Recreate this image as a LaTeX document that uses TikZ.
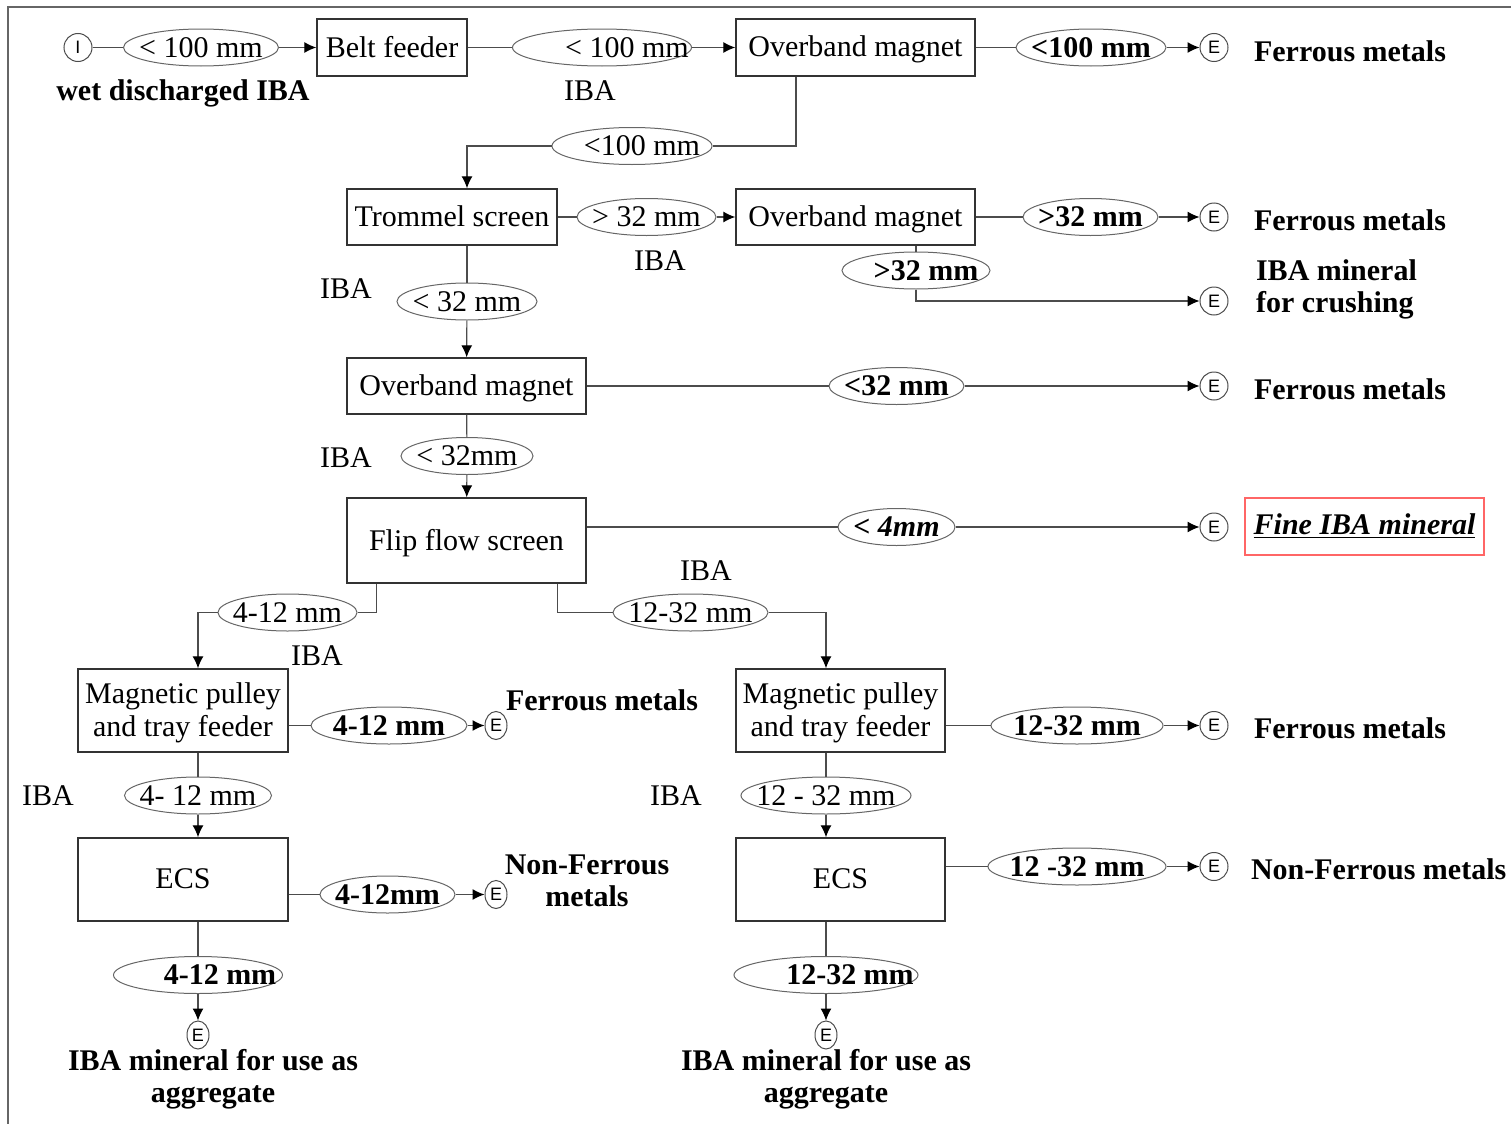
\documentclass[tikz,border=0pt]{standalone}
\usepackage{fontspec}
\setmainfont{Liberation Serif}
\setsansfont{Liberation Sans}
\usetikzlibrary{arrows.meta, positioning, shapes.geometric, calc}
% text set inside a size ellipse without changing its size; optional shift to the right (twice the offset)
\newcommand{\sz}[2][0pt]{\raisebox{-0.33em}[0pt][0pt]{\makebox[0pt]{\hspace*{#1}#2}}}

\begin{document}
\begin{tikzpicture}[x=0.5pt, y=-0.5pt,
        font=\fontsize{15}{16.5}\selectfont,
        unit/.style={draw=black!80, line width=0.7pt, align=center, inner sep=0pt, text depth=0.1em},
        size/.style={ellipse, draw=black!60, line width=0.5pt, inner sep=0pt, minimum height=18.5pt},
        bsize/.style={size, font=\bfseries\fontsize{15}{16.5}\selectfont},
        term/.style={circle, draw=black!70, line width=0.5pt, inner sep=0pt, minimum size=14pt, font=\sffamily\fontsize{9}{9}\selectfont},
        termn/.style={term, ellipse, minimum width=11pt, minimum height=14pt},
        product/.style={font=\bfseries\fontsize{15}{16}\selectfont, align=center},
        line/.style={draw=black!70, line width=0.6pt},
        flow/.style={line, -{Latex[length=6pt, width=5.5pt, color=black]}}
    ]
    \useasboundingbox (0,0) rectangle (1511,1124);
    \draw[black!60, line width=0.6pt] (8,1124) -- (8,7) -- (1511,7);

    % process units
    \node[unit, minimum width=75pt, minimum height=28.5pt] (bf) at (392,47.5) {Belt feeder};
    \node[unit, minimum width=119.5pt, minimum height=28.5pt] (om1) at (855.5,47.5) {Overband magnet};
    \node[unit, minimum width=105pt, minimum height=28pt] (trommel) at (452,217) {Trommel screen};
    \node[unit, minimum width=119.5pt, minimum height=28pt] (om2) at (855.5,217) {Overband magnet};
    \node[unit, minimum width=119.5pt, minimum height=28pt] (om3) at (466.5,386) {Overband magnet};
    \node[unit, minimum width=119.5pt, minimum height=42.5pt] (ffs) at (466.5,540.5) {Flip flow screen};
    \node[unit, minimum width=105pt, minimum height=41.5pt] (mp1) at (183,710.5) {Magnetic pulley\\and tray feeder};
    \node[unit, minimum width=104.5pt, minimum height=41.5pt] (mp2) at (840.5,710.5) {Magnetic pulley\\and tray feeder};
    \node[unit, minimum width=105pt, minimum height=41.5pt] (ecs1) at (183,879.5) {ECS};
    \node[unit, minimum width=104.5pt, minimum height=41.5pt] (ecs2) at (840.5,879.5) {ECS};

    % size fractions
    \node[size, minimum width=77.5pt] (s100a) at (201,47.5) {\sz{< 100 mm}};
    \node[size, minimum width=89.5pt] (s100b) at (602,47.5) {\sz[25pt]{< 100 mm}};
    \node[bsize, minimum width=75pt] (s100c) at (1091,47.5) {\sz{<100 mm}};
    \node[size, minimum width=80pt] (s100d) at (632,146) {\sz[10pt]{<100 mm}};
    \node[size, minimum width=69.5pt] (s32g) at (646.5,217) {\sz{> 32 mm}};
    \node[bsize, minimum width=67.5pt] (s32h) at (1090.5,217) {\sz{>32 mm}};
    \node[bsize, minimum width=74pt] (s32c) at (916,270.5) {\sz[10pt]{>32 mm}};
    \node[size, minimum width=70pt] (s32a) at (467,301.5) {\sz{< 32 mm}};
    \node[bsize, minimum width=67.5pt] (s32d) at (896.5,386) {\sz{<32 mm}};
    \node[size, minimum width=66pt] (s32b) at (467,456) {\sz{< 32mm}};
    \node[bsize, minimum width=58.5pt] (s4) at (896.5,527) {\sz{< \itshape 4mm}};
    \node[size, minimum width=69.5pt] (s412a) at (287.5,612.5) {\sz{4-12 mm}};
    \node[size, minimum width=77.5pt] (s1232a) at (690.5,612.5) {\sz{12-32 mm}};
    \node[bsize, minimum width=78pt] (s412c) at (389,725.5) {\sz{4-12 mm}};
    \node[bsize, minimum width=86pt] (s1232c) at (1077,725.5) {\sz{12-32 mm}};
    \node[size, minimum width=73.5pt] (s412b) at (198,795.5) {\sz{4- 12 mm}};
    \node[size, minimum width=85pt] (s1232b) at (826,795.5) {\sz{12 - 32 mm}};
    \node[bsize, minimum width=67.5pt] (s412d) at (387.5,894.5) {\sz{4-12mm}};
    \node[bsize, minimum width=89pt] (s1232d) at (1077,866.5) {\sz{12 -32 mm}};
    \node[bsize, minimum width=84.5pt] (s412e) at (198,975) {\sz[22pt]{4-12 mm}};
    \node[bsize, minimum width=92pt] (s1232e) at (826,975) {\sz[24pt]{12-32 mm}};

    % start and end points
    \node[term] (in) at (78,47.5) {I};
    \node[term] (e1) at (1214,47.5) {E};
    \node[term] (e2) at (1214,217) {E};
    \node[term] (e3) at (1214,301) {E};
    \node[term] (e4) at (1214,386) {E};
    \node[term] (e5) at (1214,527) {E};
    \node[termn] (e6) at (496,725.5) {E};
    \node[term] (e7) at (1214,725.5) {E};
    \node[termn] (e8) at (496,894.5) {E};
    \node[term] (e9) at (1214,866.5) {E};
    \node[termn] (e10) at (198,1035) {E};
    \node[termn] (e11) at (826,1035) {E};

    % labels
    \node[product] (wet) at (183,93) {wet discharged IBA};
    \node (iba1) at (590,91) {IBA};
    \node (iba2) at (660,261) {IBA};
    \node (iba3) at (346,289) {IBA};
    \node (iba4) at (346,458) {IBA};
    \node (iba5) at (706,571) {IBA};
    \node (iba6) at (317,656) {IBA};
    \node (iba7) at (48,796) {IBA};
    \node (iba8) at (676,796) {IBA};
    \node[product, anchor=west] (fe1) at (1247,51) {Ferrous metals};
    \node[product, anchor=west] (fe2) at (1247,220) {Ferrous metals};
    \node[product, anchor=west, align=left] (crush) at (1249,289) {IBA mineral\\for crushing};
    \node[product, anchor=west] (fe3) at (1247,389) {Ferrous metals};
    \node[product, draw=red!60, line width=0.6pt, minimum width=119.5pt, minimum height=28.5pt, inner sep=0pt,
        font=\bfseries\itshape\fontsize{15}{16}\selectfont] (fine) at (1364.5,526.5) {\underline{Fine IBA mineral}};
    \node[product] (fe4) at (602,700) {Ferrous metals};
    \node[product, anchor=west] (fe5) at (1247,728) {Ferrous metals};
    \node[product] (nf1) at (587,881) {Non-Ferrous\\metals};
    \node[product, anchor=west] (nf2) at (1244,869) {Non-Ferrous metals};
    \node[product] (agg1) at (213,1079) {IBA mineral for use as\\aggregate};
    \node[product] (agg2) at (826,1079) {IBA mineral for use as\\aggregate};

    % connectors
    \draw[line] (in) -- (s100a);
    \draw[flow] (s100a) -- (bf);
    \draw[line] (bf) -- (s100b);
    \draw[flow] (s100b) -- (om1);
    \draw[line] (om1) -- (s100c);
    \draw[flow] (s100c) -- (e1);
    \draw[line] ([xshift=-29.75pt]om1.south) |- (s100d);
    \draw[flow] (s100d) -| (trommel.north -| s32a);
    \draw[line] (trommel) -- (s32g);
    \draw[flow] (s32g) -- (om2);
    \draw[line] (om2) -- (s32h);
    \draw[flow] (s32h) -- (e2);
    \draw[line] (om2.south -| s32c) -- (s32c);
    \draw[flow] (s32c) |- (e3);
    \draw[line] (trommel.south -| s32a) -- (s32a);
    \draw[flow] (s32a) -- (om3);
    \draw[line] (om3) -- (s32d);
    \draw[flow] (s32d) -- (e4);
    \draw[line] (om3) -- (s32b);
    \draw[flow] (s32b) -- (ffs);
    \draw[line] (ffs.east |- s4) -- (s4);
    \draw[flow] (s4) -- (e5);
    \draw[line] ([xshift=15pt]ffs.south west) |- (s412a);
    \draw[flow] (s412a) -| (mp1.north -| s412b);
    \draw[line] ([xshift=-14.5pt]ffs.south east) |- (s1232a);
    \draw[flow] (s1232a) -| (mp2.north -| s1232b);
    \draw[line] (mp1.east |- s412c) -- (s412c);
    \draw[flow] (s412c) -- (e6);
    \draw[line] (mp2.east |- s1232c) -- (s1232c);
    \draw[flow] (s1232c) -- (e7);
    \draw[line] (mp1.south -| s412b) -- (s412b);
    \draw[flow] (s412b) -- (ecs1.north -| s412b);
    \draw[line] (mp2.south -| s1232b) -- (s1232b);
    \draw[flow] (s1232b) -- (ecs2.north -| s1232b);
    \draw[line] (ecs1.east |- s412d) -- (s412d);
    \draw[flow] (s412d) -- (e8);
    \draw[line] (ecs2.east |- s1232d) -- (s1232d);
    \draw[flow] (s1232d) -- (e9);
    \draw[line] (ecs1.south -| s412e) -- (s412e);
    \draw[flow] (s412e) -- (e10);
    \draw[line] (ecs2.south -| s1232e) -- (s1232e);
    \draw[flow] (s1232e) -- (e11);
\end{tikzpicture}
\end{document}
